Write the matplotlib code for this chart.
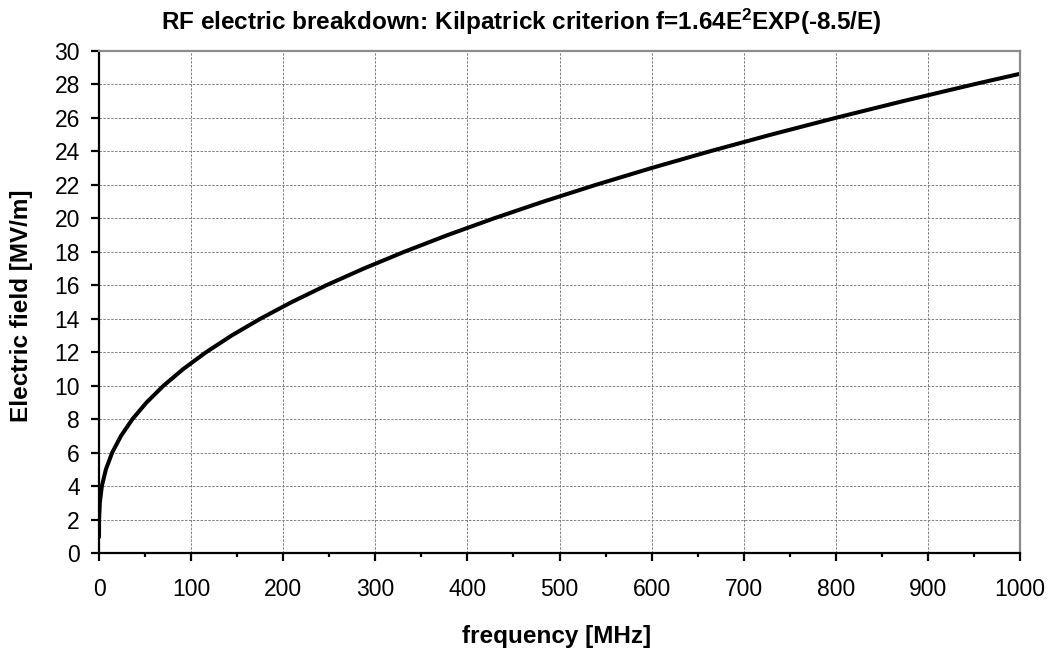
import matplotlib
matplotlib.use('Agg')
import matplotlib.pyplot as plt
from matplotlib.ticker import MultipleLocator

plt.rcParams['font.family'] = ['Liberation Sans', 'DejaVu Sans']
plt.rcParams['mathtext.fontset'] = 'custom'
plt.rcParams['mathtext.bf'] = 'Liberation Sans:bold'
plt.rcParams['mathtext.rm'] = 'Liberation Sans:bold'
plt.rcParams['mathtext.default'] = 'bf'

# frequency [MHz] and electric field [MV/m]
freq = [0, 0.1, 0.9, 3.1, 7.5, 14.3, 23.9, 36.3, 51.7, 70.1, 91.6, 116.3,
        144.1, 175.2, 209.4, 246.8, 287.5, 331.4, 378.5, 428.9, 482.5,
        539.4, 599.5, 662.9, 729.6, 799.5, 872.8, 949.2, 1028.8]
field = [1, 2, 3, 4, 5, 6, 7, 8, 9, 10, 11, 12, 13, 14, 15, 16, 17, 18,
         19, 20, 21, 22, 23, 24, 25, 26, 27, 28, 29]

fig = plt.figure(figsize=(10.53, 6.55), dpi=100)
ax = fig.add_axes([99 / 1053, 1 - 553 / 655, 921 / 1053, 502 / 655])

ax.plot(freq, field, color='black', linewidth=2.9, solid_joinstyle='round')

ax.set_xlim(0, 1000)
ax.set_ylim(0, 30)
ax.xaxis.set_major_locator(MultipleLocator(100))
ax.xaxis.set_minor_locator(MultipleLocator(50))
ax.yaxis.set_major_locator(MultipleLocator(2))

ax.grid(which='major', color='#808080', linestyle=(0, (2.5, 1.5)), linewidth=0.7)
ax.set_axisbelow(True)

for s in ['left', 'bottom']:
    ax.spines[s].set_color('black')
    ax.spines[s].set_linewidth(1.6)
for s in ['top', 'right']:
    ax.spines[s].set_color('#8c8c8c')
    ax.spines[s].set_linewidth(1.6)

ax.tick_params(axis='both', which='major', direction='out', length=5.8,
               width=1.6, labelsize=16.5, color='black')
ax.tick_params(axis='x', which='major', pad=12)
ax.tick_params(axis='y', which='major', pad=8)
ax.tick_params(axis='x', which='minor', direction='out', length=3, width=1.6)

fig.text(0.495, 1 - 22 / 655, 'RF electric breakdown: Kilpatrick criterion f=1.64E$^{2}$EXP(-8.5/E)',
         ha='center', va='center', fontsize=17.5, fontweight='bold')
fig.text(557 / 1053, 1 - 637 / 655, 'frequency [MHz]', ha='center', va='center',
         fontsize=17.5, fontweight='bold')
fig.text(22 / 1053, 1 - 306 / 655, 'Electric field [MV/m]', ha='center', va='center',
         rotation=90, fontsize=17.5, fontweight='bold')

fig.savefig('out.png', dpi=100)
